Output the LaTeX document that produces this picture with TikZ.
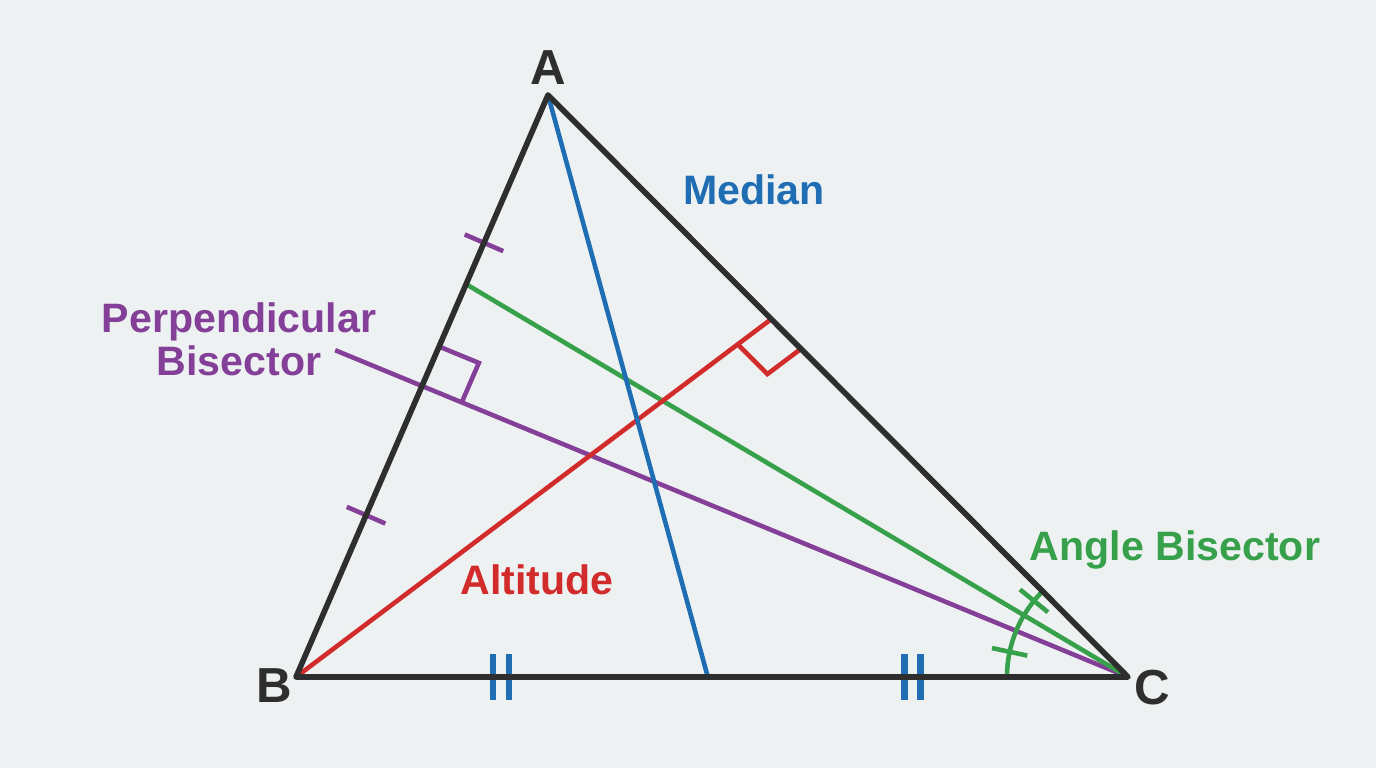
\documentclass[tikz,border=0pt]{standalone}
\usepackage{fontspec}
\setmainfont{Liberation Sans}
\usepackage{xcolor}
\usetikzlibrary{calc}

\definecolor{paper}{HTML}{EEF1F1}
\definecolor{edge}{HTML}{2E2E2E}
\definecolor{medblue}{HTML}{1F6DB2}
\definecolor{altred}{HTML}{D22B2B}
\definecolor{bisgreen}{HTML}{36A04A}
\definecolor{perppurple}{HTML}{843F98}

\tikzset{
	side/.style={edge,line width=1.6pt,line join=round},
	cevian/.style={line width=1.3pt},
	vertexlabel/.style={text=edge,font=\fontsize{14}{16}\selectfont\bfseries},
	linelabel/.style={font=\fontsize{11.7}{12.2}\selectfont\bfseries,align=center}
}

\begin{document}
\begin{tikzpicture}
				\fill[paper] (0,0) rectangle (13.76,7.68);
				\useasboundingbox (0,0) rectangle (13.76,7.68);
				
				\coordinate (A) at (5.48,6.73);
				\coordinate (B) at (2.96,0.91);
				\coordinate (C) at (11.28,0.91);
				
				\coordinate (Mbc) at ($(B)!0.495!(C)$);
				\coordinate (F) at ($(A)!0.385!(C)$);
				\coordinate (D) at ($(A)!0.325!(B)$);
				\coordinate (Mab) at ($(A)!0.5!(B)$);
				\coordinate (P) at ($(C)!1.123!(Mab)$);
				
				% the four lines
				\draw[cevian,perppurple] (P) -- (C);
				\draw[cevian,bisgreen] (D) -- (C);
				\draw[cevian,altred] (B) -- (F);
				\draw[cevian,medblue] (A) -- (Mbc);
				
				% right angles
				\coordinate (F1) at ($(F)!0.42cm!(B)$);
				\coordinate (F2) at ($(F)!0.42cm!(C)$);
				\draw[cevian,altred] (F1) -- ($(F1)+(F2)-(F)$) -- (F2);
				\coordinate (M1) at ($(Mab)!0.43cm!(A)$);
				\coordinate (M2) at ($(Mab)!0.43cm!(C)$);
				\draw[cevian,perppurple] (M1) -- ($(M1)+(M2)-(Mab)$) -- (M2);
				
				% equal parts of AB and BC
				\foreach \t in {0.254,0.722}{
					\coordinate (T) at ($(A)!\t!(B)$);
					\draw[cevian,perppurple] ($(T)!0.21cm!90:(A)$) -- ($(T)!0.21cm!-90:(A)$);
				}
				\foreach \t in {0.246,0.741}
					\foreach \dx in {-0.08,0.08}
						\draw[line width=1.8pt,medblue] ($(B)!\t!(C)+(\dx,-0.23)$) -- ++(0,0.46);
				
				% angle at C
				\draw[cevian,bisgreen] ($(C)+(180:1.21)$) arc[start angle=180,end angle=134.5,radius=1.21];
				\foreach \a in {168,141}
					\draw[cevian,bisgreen] ($(C)+(\a:1.03)$) -- ($(C)+(\a:1.39)$);
				
				\draw[side] (A) -- (B) -- (C) -- cycle;
				
				\node (lA) at (5.48,7.00) [vertexlabel] {A};
				\node (lB) at (2.74,0.82) [vertexlabel] {B};
				\node (lC) at (11.52,0.80) [vertexlabel] {C};
				
				\node (lmed) at (7.54,5.78) [linelabel,text=medblue] {Median};
				\node (lperp) at (2.39,4.29) [linelabel,text=perppurple] {Perpendicular\\Bisector};
				\node (lalt) at (5.37,1.88) [linelabel,text=altred] {Altitude};
				\node (lbis) at (11.75,2.18) [linelabel,text=bisgreen] {Angle Bisector};
			\end{tikzpicture}
\end{document}
